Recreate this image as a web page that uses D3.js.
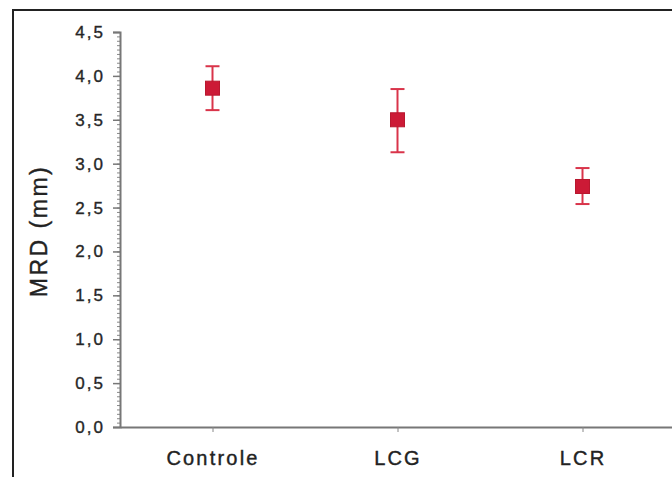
<!DOCTYPE html>
<html>
<head>
<meta charset="utf-8">
<script src="https://cdn.jsdelivr.net/npm/d3@7"></script>
<style>
  body { margin: 0; background: #fff; overflow: hidden; }
  text { font-family: "Liberation Sans", Arial, sans-serif; fill: #222; }
</style>
</head>
<body>
<div id="chart"></div>
<script>
// group names and MRD values (mean, upper and lower error)
const categories = ["Controle", "LCG", "LCR"];
const means = [3.86, 3.50, 2.74];
const upper = [4.11, 3.85, 2.95];
const lower = [3.61, 3.13, 2.54];
const yTicks = [0, 0.5, 1, 1.5, 2, 2.5, 3, 3.5, 4, 4.5];

const width = 672, height = 477;
const margin = {top: 32, right: -3, bottom: 50, left: 120};

let svg = d3.select("#chart")
    .append("svg")
    .attr("width", width)
    .attr("height", height)
    .style("display", "block");

// outer frame: only the top and left edges are in view
svg.append("path")
    .attr("d", `M13,${height} V10 H${width}`)
    .attr("fill", "none")
    .attr("stroke", "#222")
    .attr("stroke-width", 2);

let x = d3.scalePoint()
    .domain(categories)
    .range([margin.left, width - margin.right])
    .padding(0.5);

let y = d3.scaleLinear()
    .domain([0, 4.5])
    .range([height - margin.bottom, margin.top]);

const fmt = d => d3.format(".1f")(d).replace(".", ",");

// minor ticks every 0.05
svg.append("g")
    .attr("transform", `translate(${margin.left}, 0)`)
    .call(d3.axisLeft(y).tickValues(d3.range(0, 91).map(i => i * 0.05)).tickSize(3).tickFormat(""))
    .call(g => g.select(".domain").remove())
    .call(g => g.selectAll("line").attr("stroke", "#888"));

// major y ticks
let yAxis = svg.append("g")
    .attr("transform", `translate(${margin.left}, 0)`)
    .call(d3.axisLeft(y).tickValues(yTicks).tickSize(7).tickPadding(8).tickFormat(fmt));
yAxis.select(".domain").attr("stroke", "#777").attr("stroke-width", 2);
yAxis.selectAll("line").attr("stroke", "#777").attr("stroke-width", 1.5);
yAxis.selectAll("text")
    .style("font-size", "17px")
    .style("letter-spacing", "2px")
    .attr("fill", "#333")
    .attr("stroke", "#333")
    .attr("stroke-width", 0.4);

// x axis (line runs off the right edge)
let xAxis = svg.append("g")
    .attr("transform", `translate(0, ${y(0)})`)
    .call(d3.axisBottom(x).tickSize(5).tickPadding(19).tickSizeOuter(0));
xAxis.select(".domain").attr("stroke", "#777").attr("stroke-width", 2);
xAxis.selectAll("line").attr("stroke", "#888");
xAxis.selectAll("text")
    .style("font-size", "20px")
    .style("letter-spacing", "2.2px")
    .attr("fill", "#222")
    .attr("stroke", "#222")
    .attr("stroke-width", 0.4);

// y axis label
svg.append("text")
    .attr("transform", `translate(${47}, ${231}) rotate(-90)`)
    .style("text-anchor", "middle")
    .style("font-size", "23px")
    .style("letter-spacing", "2.5px")
    .attr("stroke", "#222")
    .attr("stroke-width", 0.4)
    .text("MRD (mm)");

let data = categories.map((c, i) => ({cat: c, mean: means[i], hi: upper[i], lo: lower[i]}));

let marks = svg.append("g").selectAll("g").data(data).enter().append("g");

marks.append("line")
    .attr("x1", d => x(d.cat)).attr("x2", d => x(d.cat))
    .attr("y1", d => y(d.hi)).attr("y2", d => y(d.lo))
    .attr("stroke", "#d9344a").attr("stroke-width", 2);

marks.selectAll(".cap")
    .data(d => [{cat: d.cat, v: d.hi}, {cat: d.cat, v: d.lo}])
    .enter().append("line")
    .attr("class", "cap")
    .attr("x1", d => x(d.cat) - 7).attr("x2", d => x(d.cat) + 7)
    .attr("y1", d => y(d.v)).attr("y2", d => y(d.v))
    .attr("stroke", "#d9344a").attr("stroke-width", 2);

marks.append("rect")
    .attr("x", d => x(d.cat) - 7)
    .attr("y", d => y(d.mean) - 7)
    .attr("width", 14)
    .attr("height", 14)
    .attr("fill", "#cc1a36")
    .attr("stroke", "#b8182f")
    .attr("stroke-width", 1);

// mask the far right strip so nothing but the frame and axis line reaches the edge
svg.append("rect")
    .attr("x", width - 4).attr("y", 12)
    .attr("width", 4).attr("height", y(0) - 13)
    .attr("fill", "#fff");
</script>
</body>
</html>
